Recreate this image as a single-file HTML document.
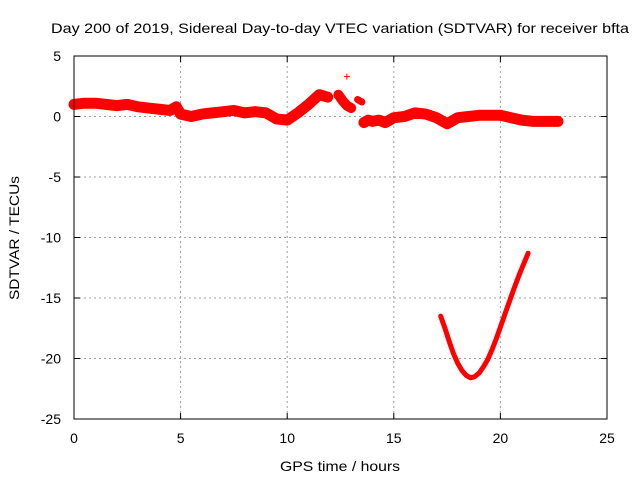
<!DOCTYPE html>
<html><head><meta charset="utf-8"><style>
body{margin:0;background:#fff}
svg text{font-family:"Liberation Sans",sans-serif;font-size:14px;fill:#000}
</style></head><body>
<svg width="640" height="480" xmlns="http://www.w3.org/2000/svg">
<text x="340" y="33" text-anchor="middle" textLength="578" lengthAdjust="spacingAndGlyphs">Day 200 of 2019, Sidereal Day-to-day VTEC variation (SDTVAR) for receiver bfta</text>
<text x="340" y="471" text-anchor="middle" textLength="120" lengthAdjust="spacingAndGlyphs">GPS time / hours</text>
<text transform="translate(19,238) rotate(-90)" text-anchor="middle" textLength="124" lengthAdjust="spacingAndGlyphs">SDTVAR / TECUs</text>
<g id="grid"></g><g id="ticks"></g><g id="series"></g>
<rect x="74" y="56" width="533" height="363" fill="none" stroke="#000"/>
</svg>
<script>
const xTicks=[0,5,10,15,20,25];
const yTicks=[5,0,-5,-10,-15,-20,-25];
const upperT=[0,0.5,1,1.5,2,2.5,3,3.5,4,4.5,4.8,5,5.5,6,6.5,7,7.5,8,8.5,9,9.5,10,10.5,11,11.5,11.9];
const upperV=[1.0,1.1,1.1,1.0,0.9,1.0,0.8,0.7,0.6,0.5,0.8,0.2,0.0,0.2,0.3,0.4,0.5,0.3,0.4,0.3,-0.2,-0.3,0.3,1.0,1.8,1.6];
const midT=[12.4,12.6,12.8,13.0];
const midV=[1.8,1.3,0.9,0.7];
const mid2T=[13.3,13.5];
const mid2V=[1.4,1.2];
const restT=[13.6,13.8,14,14.3,14.6,15,15.5,16,16.5,17,17.5,18,18.5,19,19.5,20,20.5,21,21.5,22,22.7];
const restV=[-0.5,-0.3,-0.4,-0.3,-0.5,-0.1,0.0,0.3,0.2,-0.1,-0.6,-0.1,0.0,0.1,0.1,0.1,-0.1,-0.3,-0.4,-0.4,-0.4];
const lowT=[17.2,17.4,17.6,17.8,18.0,18.2,18.4,18.6,18.8,19.0,19.2,19.4,19.6,19.8,20.0,20.3,20.6,20.9,21.3];
const lowV=[-16.5,-17.5,-18.6,-19.6,-20.4,-21.0,-21.4,-21.6,-21.5,-21.2,-20.7,-20.1,-19.3,-18.4,-17.4,-15.9,-14.4,-13.0,-11.3];
const outT=[12.8];const outV=[3.3];
const X=t=>74+t*533/25, Y=v=>56+(5-v)*363/30;
const ns="http://www.w3.org/2000/svg";
const g=document.getElementById('grid'),tk=document.getElementById('ticks'),s=document.getElementById('series');
function mk(tag,a,p){const e=document.createElementNS(ns,tag);for(const k in a)e.setAttribute(k,a[k]);p.appendChild(e);return e;}
xTicks.forEach(t=>{const x=X(t);
 if(t>0&&t<25){const l=mk('line',{x1:x,x2:x,y1:56,y2:419,stroke:'#a0a0a0','stroke-dasharray':'2,3'},g);
 
 }
 mk('line',{x1:x,x2:x,y1:419,y2:413,stroke:'#000'},tk);mk('line',{x1:x,x2:x,y1:56,y2:62,stroke:'#000'},tk);
 const tx=mk('text',{x:x,y:443,'text-anchor':'middle'},tk);tx.textContent=t;
 
 });
yTicks.forEach(v=>{const y=Y(v);
 if(v<5&&v>-25){const l=mk('line',{x1:74,x2:607,y1:y,y2:y,stroke:'#a0a0a0','stroke-dasharray':'2,3'},g);
 
 }
 mk('line',{x1:74,x2:80,y1:y,y2:y,stroke:'#000'},tk);mk('line',{x1:607,x2:601,y1:y,y2:y,stroke:'#000'},tk);
 const tx=mk('text',{x:61,y:y+5,'text-anchor':'end'},tk);tx.textContent=v;
 
 });
function band(T,V,w,name){
 const p=mk('polyline',{points:T.map((t,i)=>X(t)+','+Y(V[i])).join(' '),fill:'none',stroke:'#f00','stroke-width':w,'stroke-linejoin':'round','stroke-linecap':'round'},s);
 
 }
band(upperT,upperV,11,'sdtvar-band-early');
band(midT,midV,10,'sdtvar-band-mid');
band(mid2T,mid2V,7,'sdtvar-band-mid2');
band(restT,restV,11,'sdtvar-band-late');
band(lowT,lowV,5,'sdtvar-lower-arc');
outT.forEach((t,i)=>{const x=X(t),y=Y(outV[i]);
 const p=mk('path',{d:`M${x-3},${y}H${x+3}M${x},${y-3}V${y+3}`,stroke:'#f00','stroke-width':1},s);
 
 });
</script>
</body></html>
